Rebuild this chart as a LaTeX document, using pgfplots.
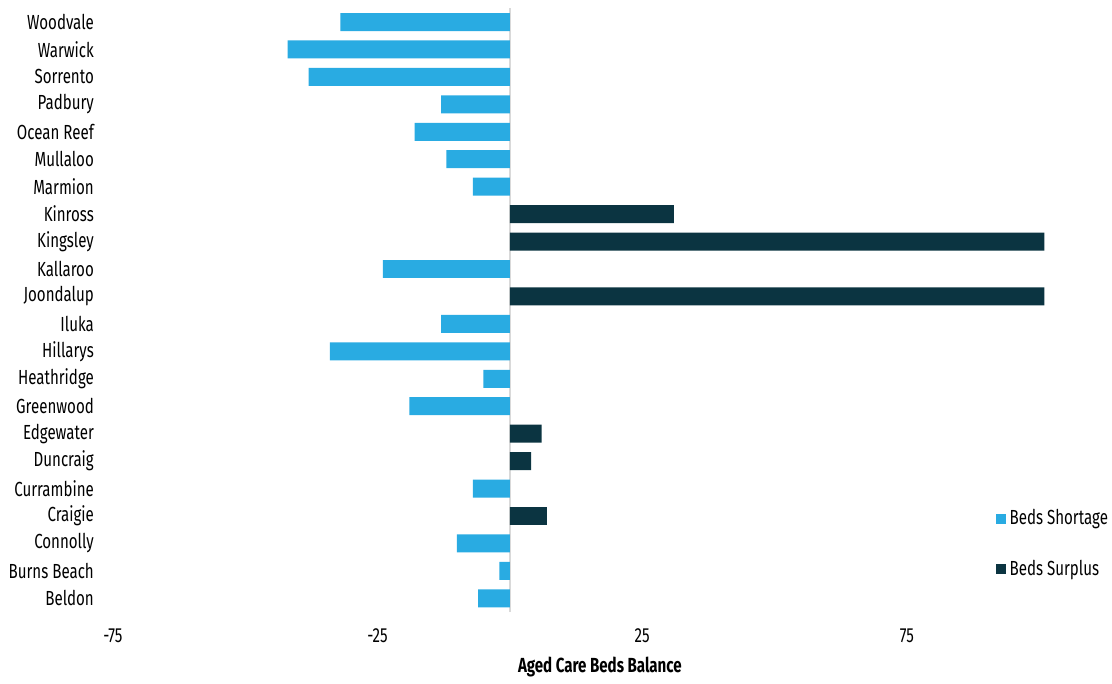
\documentclass[border=0pt]{standalone}
\usepackage{pgfplots}
\pgfplotsset{compat=1.18}
\usepackage{fontspec}
\setmainfont[FakeStretch=0.74]{Fira Sans}
\usetikzlibrary{calc}
\definecolor{shortage}{RGB}{41,171,226}
\definecolor{surplus}{RGB}{11,52,65}
\definecolor{zeroline}{RGB}{217,217,217}
\begin{document}
\begin{tikzpicture}
\begin{axis}[
  name=ax,
  anchor=south west, at={(0,0)},
  scale only axis,
  width=487.5pt, height=302.2pt,
  xmin=-75, xmax=109,
  ymin=-0.5, ymax=21.5,
  axis line style={draw=none},
  xbar, bar width=9pt,
  bar shift=0pt,
  xtick={-75,-25,25,75},
  ytick={0,...,21},
  yticklabels={Beldon,Burns Beach,Connolly,Craigie,Currambine,Duncraig,Edgewater,Greenwood,Heathridge,Hillarys,Iluka,Joondalup,Kallaroo,Kingsley,Kinross,Marmion,Mullaloo,Ocean Reef,Padbury,Sorrento,Warwick,Woodvale},
  major tick length=0pt,
  tick label style={font=\fontsize{10.2}{12}\selectfont, text=black},
  /pgf/number format/assume math mode=true,
  yticklabel style={xshift=-6pt},
  xticklabel style={yshift=-5pt},
  extra x ticks={0}, extra x tick labels={},
  extra tick style={grid=major, major grid style={zeroline, line width=1pt}},
  xlabel={\bfseries Aged Care Beds Balance},
  xlabel style={font=\fontsize{10.2}{12}\selectfont, yshift=0pt},
  legend style={draw=none, fill=none, at={(0.906,0.177)}, anchor=north west,
    font=\fontsize{10.2}{12}\selectfont, row sep=12pt, inner sep=0pt,
    cells={anchor=west}},
  legend cell align=left,
  legend image code/.code={\fill[#1] (0pt,-2.5pt) rectangle (5pt,2.5pt);},
  clip=false,
]
% Suburbs with a shortage of aged care beds
\addplot[fill=shortage, draw=none] coordinates {
  (-6,0) (-2,1) (-10,2) (-7,4) (-19,7) (-5,8) (-34,9) (-13,10)
  (-24,12) (-7,15) (-12,16) (-18,17) (-13,18) (-38,19) (-42,20) (-32,21)
};
\addlegendentry{Beds Shortage}
% Suburbs with a surplus of aged care beds
\addplot[fill=surplus, draw=none] coordinates {
  (7,3) (4,5) (6,6) (101,11) (101,13) (31,14)
};
\addlegendentry{Beds Surplus}
\end{axis}
\path[use as bounding box] ($(ax.south west)+(-56.5pt,-31.65pt)$) rectangle ($(ax.south west)+(499.5pt,306.35pt)$);
\end{tikzpicture}
\end{document}
